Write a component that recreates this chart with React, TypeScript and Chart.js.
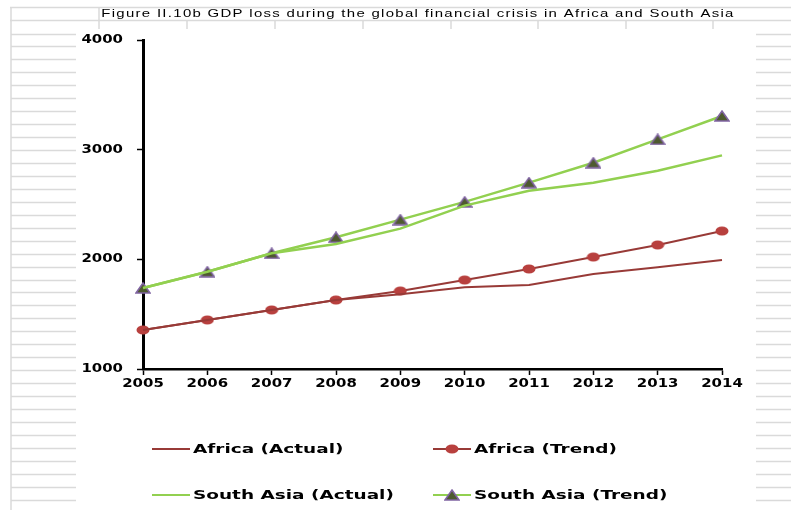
import React, { useEffect, useRef } from 'react';
import { Chart, registerables } from 'chart.js';

Chart.register(...registerables);

const years = ['2005', '2006', '2007', '2008', '2009', '2010', '2011', '2012', '2013', '2014'];
const africaActual = [1356, 1447, 1538, 1629, 1681, 1745, 1766, 1866, 1927, 1994];
const africaTrend = [1356, 1447, 1538, 1629, 1711, 1811, 1912, 2021, 2131, 2258];
const southAsiaActual = [1739, 1887, 2055, 2140, 2280, 2490, 2626, 2699, 2808, 2948];
const southAsiaTrend = [1739, 1887, 2055, 2201, 2362, 2524, 2699, 2881, 3094, 3307];
const seriesLabels = ['Africa (Actual)', 'Africa (Trend)', 'South Asia (Actual)', 'South Asia (Trend)'];
const chartTitle = 'Figure II.10b GDP loss during the global financial crisis in Africa and South Asia';

const W = 791;
const H = 510;

function makeEllipse(fill: string): HTMLCanvasElement {
  const c = document.createElement('canvas');
  c.width = 14;
  c.height = 10;
  const ctx = c.getContext('2d')!;
  ctx.fillStyle = fill;
  ctx.beginPath();
  ctx.ellipse(7, 5, 6.5, 4.5, 0, 0, Math.PI * 2);
  ctx.fill();
  return c;
}

function makeTriangle(fill: string, stroke: string): HTMLCanvasElement {
  const c = document.createElement('canvas');
  c.width = 16;
  c.height = 12;
  const ctx = c.getContext('2d')!;
  ctx.fillStyle = fill;
  ctx.strokeStyle = stroke;
  ctx.lineWidth = 1.5;
  ctx.beginPath();
  ctx.moveTo(8, 1);
  ctx.lineTo(15, 11);
  ctx.lineTo(1, 11);
  ctx.closePath();
  ctx.fill();
  ctx.stroke();
  return c;
}

function stretchedText(
  ctx: CanvasRenderingContext2D,
  text: string,
  x: number,
  y: number,
  align: CanvasTextAlign,
  sx: number,
  font: string,
  color: string,
  spacing = '0px'
) {
  ctx.save();
  ctx.font = font;
  ctx.fillStyle = color;
  ctx.textBaseline = 'middle';
  ctx.textAlign = align;
  (ctx as any).letterSpacing = spacing;
  ctx.translate(x, y);
  ctx.scale(sx, 1);
  ctx.fillText(text, 0, 0);
  ctx.restore();
}

const sheetPlugin = {
  id: 'sheetBackground',
  beforeDraw(chart: any) {
    const ctx: CanvasRenderingContext2D = chart.ctx;
    ctx.save();
    ctx.fillStyle = '#ffffff';
    ctx.fillRect(0, 0, chart.width, chart.height);
    ctx.strokeStyle = '#dadada';
    ctx.lineWidth = 1.5;
    ctx.beginPath();
    ctx.moveTo(10, 7.5);
    ctx.lineTo(W, 7.5);
    ctx.moveTo(10, 20.5);
    ctx.lineTo(W, 20.5);
    ctx.moveTo(11, 7);
    ctx.lineTo(11, H);
    ctx.moveTo(99, 7);
    ctx.lineTo(99, 29);
    [187, 275, 363, 451, 538, 626, 713].forEach((x) => {
      ctx.moveTo(x, 20);
      ctx.lineTo(x, 29);
    });
    for (let y = 33.5; y < H; y += 12.95) {
      const yy = Math.round(y) + 0.5;
      ctx.moveTo(11, yy);
      ctx.lineTo(76, yy);
      ctx.moveTo(756, yy);
      ctx.lineTo(W, yy);
    }
    ctx.stroke();
    ctx.restore();
  },
};

const textPlugin = {
  id: 'textLayer',
  afterDraw(chart: any) {
    const ctx: CanvasRenderingContext2D = chart.ctx;
    stretchedText(ctx, chartTitle, 418, 14, 'center', 1.3, '11.5px "Liberation Sans", Arial, sans-serif', '#000', '1px');

    const tickFont = 'bold 11.5px "DejaVu Sans", Verdana, sans-serif';
    const ys = chart.scales.y;
    ys.ticks.forEach((t: any, i: number) => {
      stretchedText(ctx, String(t.label), 123, ys.getPixelForTick(i), 'right', 1.3, tickFont, '#000');
    });
    const xs = chart.scales.x;
    xs.ticks.forEach((t: any, i: number) => {
      stretchedText(ctx, String(t.label), xs.getPixelForTick(i), 384, 'center', 1.3, tickFont, '#000');
    });

    const cols = [152, 433];
    const rows = [449, 495];
    const legendFont = 'bold 13px "DejaVu Sans", Verdana, sans-serif';
    chart.data.datasets.forEach((ds: any, i: number) => {
      const x0 = cols[i % 2];
      const y0 = rows[Math.floor(i / 2)];
      ctx.save();
      ctx.strokeStyle = ds.borderColor;
      ctx.lineWidth = 2;
      ctx.beginPath();
      ctx.moveTo(x0, y0);
      ctx.lineTo(x0 + 38, y0);
      ctx.stroke();
      if (ds.pointRadius > 0 && ds.pointStyle instanceof HTMLCanvasElement) {
        const img = ds.pointStyle as HTMLCanvasElement;
        ctx.drawImage(img, x0 + 19 - img.width / 2, y0 - img.height / 2);
      }
      ctx.restore();
      stretchedText(ctx, ds.label, x0 + 41, y0 + 1, 'left', 1.42, legendFont, '#000');
    });
  },
};

export default function App() {
  const ref = useRef<HTMLCanvasElement | null>(null);

  useEffect(() => {
    document.body.style.margin = '0';
    const canvas = ref.current;
    if (!canvas) return;
    const ellipse = makeEllipse('#b8403e');
    const triangle = makeTriangle('#4e5a2f', '#8064a2');

    const chart = new Chart(canvas, {
      type: 'line',
      data: {
        labels: years,
        datasets: [
          {
            label: seriesLabels[0],
            data: africaActual,
            borderColor: '#983a37',
            borderWidth: 2,
            pointRadius: 0,
            tension: 0,
          },
          {
            label: seriesLabels[1],
            data: africaTrend,
            borderColor: '#983a37',
            borderWidth: 2,
            pointStyle: ellipse,
            pointRadius: 6,
            tension: 0,
          },
          {
            label: seriesLabels[2],
            data: southAsiaActual,
            borderColor: '#92d050',
            borderWidth: 2.5,
            pointRadius: 0,
            tension: 0,
          },
          {
            label: seriesLabels[3],
            data: southAsiaTrend,
            borderColor: '#92d050',
            borderWidth: 2.5,
            pointStyle: triangle,
            pointRadius: 7,
            tension: 0,
          },
        ],
      },
      options: {
        responsive: false,
        animation: false,
        devicePixelRatio: 1,
        layout: { padding: { left: 0, right: 69, top: 40, bottom: 0 } },
        plugins: {
          legend: { display: false },
          title: { display: false },
          tooltip: { enabled: false },
        },
        scales: {
          x: {
            type: 'category',
            offset: false,
            grid: {
              drawOnChartArea: false,
              drawTicks: true,
              tickLength: 6,
              tickColor: '#000',
              tickWidth: 1.5,
            },
            border: { display: true, color: '#000', width: 2.5 },
            ticks: { display: false },
            afterFit: (s: any) => {
              s.height = H - 369;
            },
          },
          y: {
            type: 'linear',
            min: 1000,
            max: 4000,
            grid: {
              drawOnChartArea: false,
              drawTicks: true,
              tickLength: 6,
              tickColor: '#000',
              tickWidth: 1.5,
            },
            border: { display: true, color: '#000', width: 3 },
            ticks: {
              display: false,
              stepSize: 1000,
              callback: (v: any) => String(v),
            },
            afterFit: (s: any) => {
              s.width = 143;
            },
          },
        },
      },
      plugins: [sheetPlugin, textPlugin],
    });
    return () => chart.destroy();
  }, []);

  return (
    <div style={{ width: W, height: H }}>
      <canvas ref={ref} width={W} height={H} style={{ display: 'block', width: W, height: H }} />
    </div>
  );
}
